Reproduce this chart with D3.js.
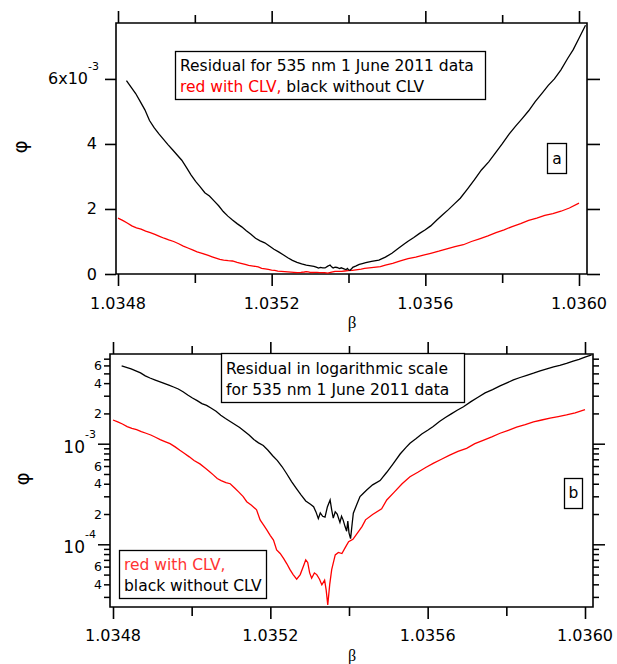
<!DOCTYPE html>
<html><head><meta charset="utf-8">
<script src="https://cdn.jsdelivr.net/npm/d3@7"></script>
<style>
body{margin:0;background:#fff;}
svg text{font-family:"DejaVu Sans",sans-serif;}
</style></head>
<body><svg id="c" width="617" height="664"></svg>
<script>
// ---- data ----
const betaBlack = [1.034822,1.034834,1.034846,1.034858,1.034870,1.034882,1.034894,1.034906,1.034918,1.034930,1.034942,1.034954,1.034966,1.034978,1.034990,1.035002,1.035014,1.035026,1.035038,1.035050,1.035062,1.035074,1.035086,1.035098,1.035110,1.035122,1.035134,1.035146,1.035158,1.035170,1.035182,1.035194,1.035206,1.035218,1.035230,1.035242,1.035254,1.035266,1.035278,1.035290,1.035302,1.035310,1.035316,1.035322,1.035327,1.035333,1.035339,1.035345,1.035352,1.035356,1.035360,1.035365,1.035370,1.035377,1.035381,1.035385,1.035390,1.035394,1.035397,1.035400,1.035404,1.035408,1.035411,1.035420,1.035428,1.035436,1.035445,1.035460,1.035479,1.035496,1.035513,1.035530,1.035545,1.035555,1.035570,1.035585,1.035600,1.035614,1.035630,1.035645,1.035660,1.035675,1.035691,1.035710,1.035728,1.035746,1.035765,1.035784,1.035800,1.035818,1.035835,1.035852,1.035869,1.035886,1.035903,1.035920,1.035936,1.035953,1.035970,1.035985,1.036000,1.036017];
const phiBlack = [5.95e-3,5.75e-3,5.55e-3,5.30e-3,5.05e-3,4.72e-3,4.50e-3,4.32e-3,4.15e-3,3.98e-3,3.82e-3,3.66e-3,3.50e-3,3.28e-3,3.05e-3,2.85e-3,2.68e-3,2.50e-3,2.40e-3,2.25e-3,2.10e-3,1.92e-3,1.78e-3,1.66e-3,1.55e-3,1.45e-3,1.33e-3,1.22e-3,1.10e-3,1.02e-3,0.96e-3,0.86e-3,0.76e-3,0.68e-3,0.59e-3,0.50e-3,0.42e-3,0.36e-3,0.31e-3,0.27e-3,0.25e-3,0.236e-3,0.21e-3,0.18e-3,0.205e-3,0.19e-3,0.186e-3,0.235e-3,0.276e-3,0.22e-3,0.182e-3,0.21e-3,0.20e-3,0.165e-3,0.19e-3,0.175e-3,0.15e-3,0.135e-3,0.17e-3,0.13e-3,0.114e-3,0.16e-3,0.204e-3,0.25e-3,0.298e-3,0.32e-3,0.347e-3,0.39e-3,0.43e-3,0.52e-3,0.638e-3,0.79e-3,0.92e-3,1.01e-3,1.12e-3,1.25e-3,1.36e-3,1.48e-3,1.66e-3,1.82e-3,1.98e-3,2.15e-3,2.33e-3,2.62e-3,2.90e-3,3.20e-3,3.45e-3,3.75e-3,4.00e-3,4.30e-3,4.55e-3,4.78e-3,5.02e-3,5.30e-3,5.55e-3,5.80e-3,6.00e-3,6.28e-3,6.62e-3,6.90e-3,7.25e-3,7.65e-3];
const betaRed = [1.034800,1.034812,1.034824,1.034836,1.034848,1.034860,1.034872,1.034884,1.034896,1.034908,1.034920,1.034932,1.034945,1.034958,1.034970,1.034982,1.034994,1.035006,1.035021,1.035035,1.035045,1.035055,1.035065,1.035075,1.035087,1.035098,1.035110,1.035120,1.035131,1.035140,1.035152,1.035165,1.035174,1.035183,1.035191,1.035200,1.035208,1.035216,1.035225,1.035234,1.035242,1.035250,1.035258,1.035267,1.035276,1.035285,1.035290,1.035295,1.035300,1.035305,1.035312,1.035318,1.035325,1.035331,1.035338,1.035342,1.035346,1.035351,1.035356,1.035365,1.035373,1.035382,1.035390,1.035399,1.035410,1.035424,1.035433,1.035442,1.035460,1.035483,1.035496,1.035515,1.035535,1.035555,1.035575,1.035595,1.035614,1.035635,1.035656,1.035677,1.035699,1.035720,1.035741,1.035763,1.035784,1.035805,1.035826,1.035848,1.035869,1.035890,1.035911,1.035932,1.035953,1.035975,1.036000];
const phiRed = [1.72e-3,1.65e-3,1.57e-3,1.48e-3,1.42e-3,1.38e-3,1.32e-3,1.27e-3,1.22e-3,1.16e-3,1.10e-3,1.05e-3,1.00e-3,0.93e-3,0.86e-3,0.80e-3,0.74e-3,0.68e-3,0.63e-3,0.57e-3,0.53e-3,0.49e-3,0.45e-3,0.43e-3,0.41e-3,0.40e-3,0.36e-3,0.33e-3,0.298e-3,0.265e-3,0.245e-3,0.22e-3,0.175e-3,0.155e-3,0.139e-3,0.122e-3,0.11e-3,0.088e-3,0.081e-3,0.072e-3,0.064e-3,0.056e-3,0.050e-3,0.045e-3,0.050e-3,0.062e-3,0.070e-3,0.066e-3,0.052e-3,0.046e-3,0.052e-3,0.050e-3,0.045e-3,0.0395e-3,0.044e-3,0.035e-3,0.025e-3,0.040e-3,0.056e-3,0.0785e-3,0.083e-3,0.081e-3,0.092e-3,0.106e-3,0.112e-3,0.134e-3,0.15e-3,0.175e-3,0.198e-3,0.225e-3,0.276e-3,0.33e-3,0.40e-3,0.47e-3,0.52e-3,0.58e-3,0.638e-3,0.70e-3,0.77e-3,0.84e-3,0.90e-3,1.00e-3,1.08e-3,1.17e-3,1.27e-3,1.36e-3,1.46e-3,1.55e-3,1.65e-3,1.72e-3,1.80e-3,1.86e-3,1.93e-3,2.03e-3,2.18e-3];

const xMajor = [1.0348,1.0352,1.0356,1.0360];
const xMajorLabels = ["1.0348","1.0352","1.0356","1.0360"];
const xMinor = [1.0350,1.0354,1.0358];
const yLinTicks = [0,0.002,0.004,0.006];
const yLinLabels = ["0","2","4","6x10"];
const yLogMajor = [1e-4,1e-3];
const yLogMajorLabels = ["10","10"];
const yLogMajorExp = ["-4","-3"];
const yLogMinor = [3e-5,4e-5,5e-5,6e-5,7e-5,8e-5,9e-5,2e-4,3e-4,4e-4,5e-4,6e-4,7e-4,8e-4,9e-4,2e-3,3e-3,4e-3,5e-3,6e-3,7e-3];
const yLogMinorLabeled = [4e-5,6e-5,2e-4,4e-4,6e-4,2e-3,4e-3,6e-3];
const yLogMinorLabels = ["4","6","2","4","6","2","4","6"];
const legendTop = ["Residual for 535 nm 1 June 2011 data"];
const legendTopRed = "red with CLV,";
const legendTopBlack = " black without CLV";
const legendLog = ["Residual in logarithmic scale","for 535 nm 1 June 2011 data"];
const legendLog2 = ["red with CLV,","black without CLV"];

const svg = d3.select("#c");
const RED = "#ff0000";
const black = d3.zip(betaBlack, phiBlack);
const red = d3.zip(betaRed, phiRed);
const LFS = 15.5;

function frame(g, L, R, T, B){
  g.append("path").attr("d",`M${L},${T}H${R}V${B}H${L}Z`).attr("fill","none").attr("stroke","#000").attr("stroke-width",1.6);
}
function tickAxes(g, x, T, B){
  const mk = (axis, len, vals, y) => g.append("g").attr("transform",`translate(0,${y})`)
     .call(axis(x).tickValues(vals).tickSize(len).tickFormat(""))
     .call(s=>s.select(".domain").remove())
     .call(s=>s.selectAll("line").attr("stroke-width",1.6));
  mk(d3.axisTop, 12, xMajor, T); mk(d3.axisTop, 8, xMinor, T);
  mk(d3.axisBottom, 12, xMajor, B); mk(d3.axisBottom, 9, xMinor, B);
}
function xLabels(g, x, y){
  g.selectAll(null).data(xMajor).join("text")
   .attr("x", d=>x(d)).attr("y", y).attr("text-anchor","middle").attr("dominant-baseline","central")
   .attr("font-size",16).text((d,i)=>xMajorLabels[i]);
}

// ===== Panel a =====
{
  const L=116,R=587,T=23,B=274;
  const x = d3.scaleLinear().domain([1.0348,1.0360]).range([118,579]);
  const y = d3.scaleLinear().domain([0,0.00772]).range([274,23]);
  const g = svg.append("g");
  tickAxes(g, x, T, B);
  const yl = (axis,pos,len)=>g.append("g").attr("transform",`translate(${pos},0)`)
     .call(axis(y).tickValues(yLinTicks).tickSize(len).tickFormat(""))
     .call(s=>s.select(".domain").remove())
     .call(s=>s.selectAll("line").attr("stroke-width",1.6));
  yl(d3.axisLeft, L, 11); yl(d3.axisRight, R, 13);
  frame(g,L,R,T,B);
  g.selectAll(null).data(yLinTicks).join("text")
   .attr("x", (d,i)=> i===3 ? 88 : 97).attr("y", d=>y(d)).attr("text-anchor","end").attr("dominant-baseline","central")
   .attr("font-size",16).text((d,i)=>yLinLabels[i]);
  g.append("text").attr("x",88).attr("y",y(0.006)-9).attr("font-size",11).text("-3");
  xLabels(g, x, 303);
  const line = d3.line().x(d=>x(d[0])).y(d=>y(d[1]));
  g.append("path").datum(red).attr("d",line).attr("fill","none").attr("stroke",RED).attr("stroke-width",1.3);
  g.append("path").datum(black).attr("d",line).attr("fill","none").attr("stroke","#000").attr("stroke-width",1.3);
  // legend
  g.append("rect").attr("x",175.5).attr("y",51.5).attr("width",310).attr("height",48).attr("fill","#fff").attr("stroke","#000").attr("stroke-width",1.3);
  g.append("text").attr("x",180).attr("y",66).attr("dominant-baseline","central").attr("font-size",LFS).text(legendTop[0]);
  const t2 = g.append("text").attr("x",180).attr("y",87).attr("dominant-baseline","central").attr("font-size",LFS);
  t2.append("tspan").attr("fill",RED).text(legendTopRed);
  t2.append("tspan").attr("fill","#000").text(legendTopBlack);
  g.append("rect").attr("x",547.5).attr("y",143.5).attr("width",19).attr("height",30).attr("fill","#fff").attr("stroke","#000").attr("stroke-width",1.3);
  g.append("text").attr("x",557).attr("y",159).attr("text-anchor","middle").attr("dominant-baseline","central").attr("font-size",15.5).text("a");
  g.append("text").attr("transform","translate(20,147) rotate(-90)").attr("text-anchor","middle").attr("dominant-baseline","central")
   .attr("font-size",20).style("font-family","DejaVu Sans").text("φ");
  g.append("text").attr("x",352).attr("y",322).attr("text-anchor","middle").attr("dominant-baseline","central")
   .attr("font-size",17).style("font-family","Liberation Serif").text("β");
}

// ===== Panel b =====
{
  const L=110,R=593,T=354,B=607;
  const x = d3.scaleLinear().domain([1.0348,1.0360]).range([113,585]);
  const y = d3.scaleLog().domain([1e-4,1e-3]).range([544.3,443.7]);
  const g = svg.append("g");
  tickAxes(g, x, T, B);
  const yl = (axis,pos,len,vals)=>g.append("g").attr("transform",`translate(${pos},0)`)
     .call(axis(y).tickValues(vals).tickSize(len).tickFormat(""))
     .call(s=>s.select(".domain").remove())
     .call(s=>s.selectAll("line").attr("stroke-width",1.5));
  yl(d3.axisLeft, L, 12, yLogMajor); yl(d3.axisLeft, L, 6, yLogMinor);
  yl(d3.axisRight, R, 12, yLogMajor); yl(d3.axisRight, R, 6, yLogMinor);
  frame(g,L,R,T,B);
  g.selectAll(null).data(yLogMinorLabeled).join("text")
   .attr("x",102).attr("y",d=>y(d)).attr("text-anchor","end").attr("dominant-baseline","central")
   .attr("font-size",12.5).text((d,i)=>yLogMinorLabels[i]);
  g.selectAll(null).data(yLogMajor).join("text")
   .attr("x",85).attr("y",d=>y(d)+3).attr("text-anchor","end").attr("dominant-baseline","central")
   .attr("font-size",17).text((d,i)=>yLogMajorLabels[i]);
  g.selectAll(null).data(yLogMajor).join("text")
   .attr("x",85).attr("y",d=>y(d)-6).attr("font-size",11).text((d,i)=>yLogMajorExp[i]);
  xLabels(g, x, 635);
  const line = d3.line().x(d=>x(d[0])).y(d=>y(d[1]));
  g.append("path").datum(red).attr("d",line).attr("fill","none").attr("stroke",RED).attr("stroke-width",1.3);
  g.append("path").datum(black).attr("d",line).attr("fill","none").attr("stroke","#000").attr("stroke-width",1.3);
  g.append("rect").attr("x",221.5).attr("y",353.5).attr("width",243).attr("height",49).attr("fill","#fff").attr("stroke","#000").attr("stroke-width",1.3);
  g.selectAll(null).data(legendLog).join("text").attr("x",226).attr("y",(d,i)=>369+i*21)
   .attr("dominant-baseline","central").attr("font-size",LFS).text(d=>d);
  g.append("rect").attr("x",119.5).attr("y",550.5).attr("width",147).attr("height",48).attr("fill","#fff").attr("stroke","#000").attr("stroke-width",1.3);
  g.selectAll(null).data(legendLog2).join("text").attr("x",124).attr("y",(d,i)=>565+i*21)
   .attr("dominant-baseline","central").attr("font-size",LFS).attr("fill",(d,i)=>i===0?"#ff3333":"#000").text(d=>d);
  g.append("rect").attr("x",564.5).attr("y",478.5).attr("width",18).attr("height",30).attr("fill","#fff").attr("stroke","#000").attr("stroke-width",1.3);
  g.append("text").attr("x",573.5).attr("y",493).attr("text-anchor","middle").attr("dominant-baseline","central").attr("font-size",15.5).text("b");
  g.append("text").attr("transform","translate(22,479) rotate(-90)").attr("text-anchor","middle").attr("dominant-baseline","central")
   .attr("font-size",20).style("font-family","DejaVu Sans").text("φ");
  g.append("text").attr("x",352).attr("y",655).attr("text-anchor","middle").attr("dominant-baseline","central")
   .attr("font-size",16).style("font-family","Liberation Serif").text("β");
}
</script></body></html>
